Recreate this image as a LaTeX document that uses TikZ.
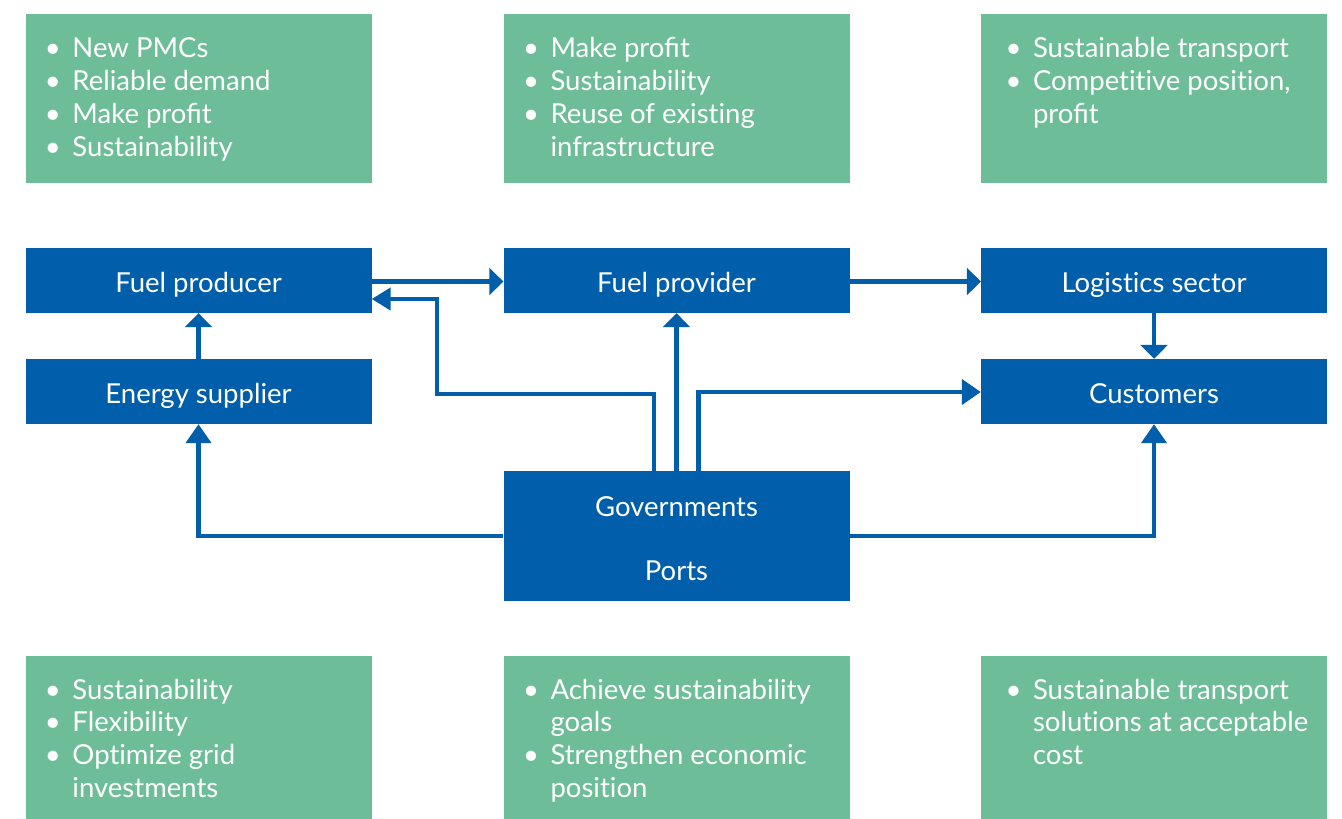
\documentclass[tikz,border=0pt]{standalone}
\usepackage{fontspec}
\setmainfont{Lato}[Ligatures=NoCommon]
\usetikzlibrary{arrows.meta,calc}
\definecolor{bluebox}{HTML}{005EAA}
\definecolor{greenbox}{HTML}{6DBE98}
\newcommand{\bl}[1]{\noindent\makebox[47pt][l]{\hspace{19.5pt}•}#1\par}
\newcommand{\cl}[1]{\noindent\hspace*{47pt}#1\par}
\newcommand{\blr}[1]{\noindent\makebox[52pt][l]{\hspace{24.5pt}•}#1\par}
\newcommand{\clr}[1]{\noindent\hspace*{52pt}#1\par}
\newcommand{\gtext}[3]{\begin{minipage}[c][#1pt][t]{346pt}\fontsize{27.5pt}{#2pt}\selectfont\parindent=0pt\parskip=0pt\vspace*{23pt}#3\end{minipage}}
\tikzset{
  x=1pt,y=-1pt,
  bluenode/.style={fill=bluebox,text=white,inner sep=0pt,minimum width=346pt,minimum height=65pt,font=\fontsize{27.5pt}{33pt}\selectfont,align=center,text height=26pt,text depth=3pt},
  greennode/.style={fill=greenbox,text=white,inner sep=0pt},
  link/.style={draw=bluebox,line width=4.4pt,line join=miter},
  tipA/.style={-{Triangle[length=14pt,width=27pt]}},
  tipB/.style={-{Triangle[length=19pt,width=25pt]}},
}
\begin{document}
\begin{tikzpicture}
\useasboundingbox (0,0) rectangle (1342,819);
% green boxes
\node[greennode] (g1) at (198.5,98.25) {\gtext{168.5}{33}{\vspace*{0.5pt}\bl{New PMCs}\bl{Reliable demand}\bl{Make pro^^^^fb01t}\bl{Sustainability}}};
\node[greennode] (g2) at (676.5,98.25) {\gtext{168.5}{33}{\vspace*{0.5pt}\bl{Make pro^^^^fb01t}\bl{Sustainability}\bl{Reuse of existing}\cl{infrastructure}}};
\node[greennode] (g3) at (1154,98.25) {\gtext{168.5}{33}{\vspace*{0.5pt}\blr{Sustainable transport}\blr{Competitive position,}\clr{pro^^^^fb01t}}};
\node[greennode] (g4) at (198.5,737.5) {\gtext{163}{32.7}{\bl{Sustainability}\bl{Flexibility}\bl{Optimize grid}\cl{investments}}};
\node[greennode] (g5) at (676.5,737.5) {\gtext{163}{32.7}{\bl{Achieve sustainability}\cl{goals}\bl{Strengthen economic}\cl{position}}};
\node[greennode] (g6) at (1154,737.5) {\gtext{163}{32.7}{\blr{Sustainable transport}\clr{solutions at acceptable}\clr{cost}}};
% blue boxes
\node[bluenode] (producer) at (198.5,280.5) {Fuel producer};
\node[bluenode] (provider) at (676.5,280.5) {Fuel provider};
\node[bluenode] (logistics) at (1154,280.5) {Logistics sector};
\node[bluenode] (energy) at (198.5,391.5) {Energy supplier};
\node[bluenode] (customers) at (1154,391.5) {Customers};
\node[bluenode,minimum height=129.5pt,text height=90pt,text depth=1pt] (gov) at (676.5,535.75) {Governments\\[31pt]Ports};
% connectors
\draw[link,tipA] ($(producer.east)+(0,1)$) -- ($(provider.west)+(0,1)$);
\draw[link,tipA] ($(provider.east)+(0,1)$) -- ($(logistics.west)+(0,1)$);
\draw[link,{Triangle[length=19pt,width=22pt]}-] ($(producer.east)+(0,18.5)$) -- (437,299) -- (437,394) -- (654,394) -- ($(gov.north)+(-22.5,0)$);
\draw[link,tipA] (gov.north) -- (provider.south);
\draw[link,tipB] ($(gov.north)+(22,0)$) -- (698.5,392) -- ($(customers.west)+(0,0.5)$);
\draw[link,tipA] (energy.north) -- (producer.south);
\draw[link,tipA] (logistics.south) -- (customers.north);
\draw[link,tipB] (gov.west) -- (energy.south |- gov.west) -- (energy.south);
\draw[link,tipB] (gov.east) -- (customers.south |- gov.east) -- (customers.south);
\end{tikzpicture}
\end{document}
